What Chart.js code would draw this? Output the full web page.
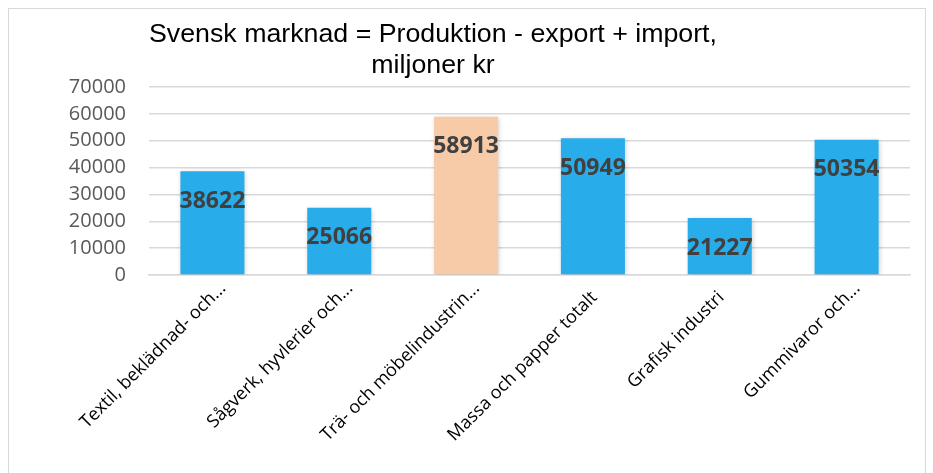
<!DOCTYPE html>
<html>
<head>
<meta charset="utf-8">
<script src="https://cdn.jsdelivr.net/npm/chart.js@4"></script>
<style>
html,body{margin:0;padding:0;background:#fff;}
#wrap{position:relative;width:933px;height:473px;}
canvas{display:block;}
</style>
</head>
<body>
<div id="wrap"><canvas id="c" width="933" height="473"></canvas></div>
<script>
const categories = [
  "Textil, beklädnad- och...",
  "Sågverk, hyvlerier och...",
  "Trä- och möbelindustrin...",
  "Massa och papper totalt",
  "Grafisk industri",
  "Gummivaror och..."
];
const values = [38622, 25066, 58913, 50949, 21227, 50354];
const barColors = ["#29ADEA", "#29ADEA", "#F7CAA8", "#29ADEA", "#29ADEA", "#29ADEA"];
const titleLines = ["Svensk marknad = Produktion - export + import,", "miljoner kr"];
const yTicks = [0, 10000, 20000, 30000, 40000, 50000, 60000, 70000];

const framePlugin = {
  id: 'frame',
  beforeDraw(chart) {
    const ctx = chart.ctx;
    ctx.save();
    ctx.fillStyle = '#fff';
    ctx.fillRect(0, 0, chart.width, chart.height);
    ctx.strokeStyle = '#d9d9d9';
    ctx.lineWidth = 1;
    ctx.strokeRect(8.5, 8.5, 917, 480);
    ctx.restore();
  },
  afterDraw(chart) {
    const ctx = chart.ctx;
    ctx.save();
    ctx.fillStyle = '#000';
    ctx.font = '25px "Liberation Sans", Arial, sans-serif';
    ctx.textAlign = 'center';
    ctx.textBaseline = 'alphabetic';
    ctx.translate(433, 0);
    ctx.scale(1.07, 1);
    ctx.fillText(titleLines[0], 0, 41.5);
    ctx.fillText(titleLines[1], 0, 72.5);
    ctx.restore();
  }
};

// Category labels rotated 45°, anchored on the x scale's tick positions
const xLabelPlugin = {
  id: 'xLabels',
  afterDraw(chart) {
    const ctx = chart.ctx;
    const xs = chart.scales.x;
    ctx.save();
    ctx.fillStyle = '#000';
    ctx.font = '18px "Open Sans", sans-serif';
    ctx.textAlign = 'right';
    ctx.textBaseline = 'middle';
    categories.forEach((lab, i) => {
      const px = xs.getPixelForTick(i);
      const trunc = lab.endsWith('...');
      const ax = px + (trunc ? 10.6 : 1.6);
      const ay = xs.top + (trunc ? 10.6 : 19.6);
      ctx.save();
      ctx.translate(ax, ay);
      ctx.rotate(-Math.PI / 4);
      ctx.fillText(lab, 0, 0);
      ctx.restore();
    });
    ctx.restore();
  }
};

const shadowPlugin = {
  id: 'barShadow',
  beforeDatasetsDraw(chart) {
    const ctx = chart.ctx;
    ctx.save();
    ctx.shadowColor = 'rgba(0,0,0,0.22)';
    ctx.shadowBlur = 5;
    ctx.shadowOffsetX = 1;
    ctx.shadowOffsetY = 1;
  },
  afterDatasetsDraw(chart) {
    chart.ctx.restore();
  }
};

const labelPlugin = {
  id: 'barLabels',
  afterDatasetsDraw(chart) {
    const ctx = chart.ctx;
    const meta = chart.getDatasetMeta(0);
    ctx.save();
    ctx.fillStyle = '#404040';
    ctx.font = 'bold 23px "Open Sans", sans-serif';
    ctx.textAlign = 'center';
    ctx.textBaseline = 'middle';
    meta.data.forEach((bar, i) => {
      ctx.fillText(String(values[i]), bar.x, bar.y + 30);
    });
    ctx.restore();
  }
};

new Chart(document.getElementById('c'), {
  type: 'bar',
  data: {
    labels: categories,
    datasets: [{
      data: values,
      backgroundColor: barColors,
      borderWidth: 0,
      barPercentage: 0.505,
      categoryPercentage: 1.0
    }]
  },
  options: {
    responsive: false,
    animation: false,
    devicePixelRatio: 1,
    layout: { padding: { left: 0, right: 23, top: 87, bottom: 0 } },
    plugins: {
      legend: { display: false },
      title: { display: false },
      tooltip: { enabled: false }
    },
    scales: {
      x: {
        grid: { display: false, drawTicks: false },
        border: { display: true, color: '#d9d9d9', width: 1.5 },
        ticks: { display: false, autoSkip: false },
        afterFit(scale) { scale.height = 473 - 275; }
      },
      y: {
        min: 0,
        max: 70000,
        afterBuildTicks(scale) { scale.ticks = yTicks.map(v => ({ value: v })); },
        grid: { color: '#d9d9d9', lineWidth: 1.5, drawTicks: false },
        border: { display: false },
        ticks: {
          color: '#595959',
          font: { family: '"Open Sans", sans-serif', size: 20 },
          padding: 23,
          autoSkip: false,
          callback: v => String(v)
        },
        afterFit(scale) { scale.width = 149; }
      }
    }
  },
  plugins: [framePlugin, xLabelPlugin, shadowPlugin, labelPlugin]
});
</script>
</body>
</html>
